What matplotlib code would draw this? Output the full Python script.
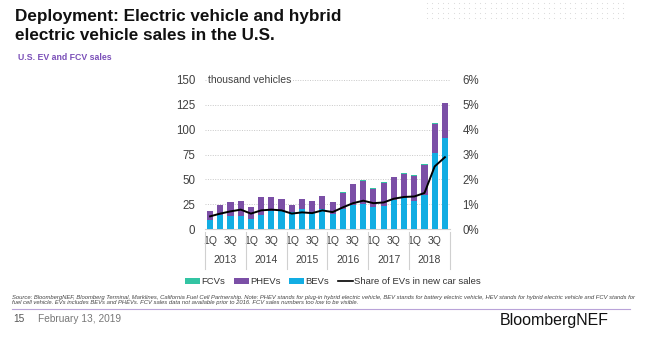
import numpy as np
import matplotlib
matplotlib.use("Agg")
import matplotlib.pyplot as plt
from matplotlib.patches import Patch
from matplotlib.lines import Line2D
import matplotlib.transforms as mtransforms

# ── Data (thousand vehicles, quarterly 2013 Q1 – 2018 Q4) ─────────────────────
years = ["2013", "2014", "2015", "2016", "2017", "2018"]
quarters = ["1Q", "", "3Q", ""] * 6
bevs = [9.3, 13.7, 12.7, 12.7, 10.3, 14.3, 17.7, 17.7, 16.7, 20.0, 16.7, 20.0,
        15.3, 20.0, 24.3, 24.7, 21.7, 22.7, 29.3, 31.0, 28.3, 34.3, 77.0, 91.7]
phevs = [8.4, 10.0, 14.3, 15.6, 11.7, 18.4, 15.0, 12.3, 7.0, 10.7, 11.6, 13.3,
         11.8, 16.7, 20.7, 24.0, 19.0, 23.7, 22.8, 24.4, 25.1, 30.4, 29.1, 34.7]
fcvs = [0, 0, 0, 0, 0, 0, 0, 0, 0, 0, 0, 0,
        0.2, 0.3, 0.3, 0.3, 0.4, 0.6, 0.6, 0.7, 0.5, 0.6, 0.6, 0.6]
ev_share = [0.51, 0.62, 0.71, 0.78, 0.62, 0.75, 0.78, 0.75, 0.62, 0.67, 0.64, 0.75,
            0.68, 0.87, 1.04, 1.14, 1.04, 1.07, 1.22, 1.29, 1.31, 1.45, 2.52, 2.89]

BEV_C = "#12ade3"
PHEV_C = "#7b4fa6"
FCV_C = "#33c4a3"
GREY = "#404040"

x = np.arange(len(bevs))
bevs = np.array(bevs)
phevs = np.array(phevs)
fcvs = np.array(fcvs)

plt.rcParams["font.family"] = ["Liberation Sans", "DejaVu Sans"]
fig = plt.figure(figsize=(6.58, 3.37), dpi=100)
fig.patch.set_facecolor("white")

# ── Header ────────────────────────────────────────────────────────────────────
fig.text(15 / 658, 1 - 9 / 337, "Deployment: Electric vehicle and hybrid\nelectric vehicle sales in the U.S.",
         fontsize=12.3, fontweight="bold", color="#111111", va="top", ha="left", linespacing=1.3)
fig.text(18 / 658, 1 - 57 / 337, "U.S. EV and FCV sales", fontsize=6.3, fontweight="bold",
         color="#7a4fb8", va="center", ha="left")

# decorative dot grid (top right)
gx, gy = np.meshgrid(np.arange(427, 625, 5.3), [3, 8, 13, 18])
dots = fig.add_axes([0, 0, 1, 1], zorder=-1)
dots.set_xlim(0, 658)
dots.set_ylim(337, 0)
dots.axis("off")
dots.scatter(gx.ravel(), gy.ravel(), s=0.6, color="#d8d8d8", linewidths=0)

# ── Main chart ────────────────────────────────────────────────────────────────
ax = fig.add_axes([205 / 658, 108 / 337, 245 / 658, 149 / 337])
ax.bar(x, bevs, width=0.6, color=BEV_C, zorder=3)
ax.bar(x, phevs, width=0.6, bottom=bevs, color=PHEV_C, zorder=3)
ax.bar(x, fcvs, width=0.6, bottom=bevs + phevs, color=FCV_C, zorder=3)

ax.set_xlim(-0.5, len(x) - 0.5)
ax.set_ylim(0, 150)
ax.set_yticks(range(0, 151, 25))
ax.grid(axis="y", color="#c8c8c8", linestyle=(0, (1, 1.5)), linewidth=0.7, zorder=0)
for s in ["top", "right", "left"]:
    ax.spines[s].set_visible(False)
ax.spines["bottom"].set_color("#d0d0d0")
ax.spines["bottom"].set_linewidth(0.8)
ax.tick_params(axis="y", length=0, pad=7, labelsize=8.3, labelcolor=GREY)
ax.set_xticks(x)
ax.set_xticklabels(quarters)
ax.tick_params(axis="x", length=0, pad=5, labelsize=7.5, labelcolor=GREY)

ax.text(-0.2, 150, "thousand vehicles", fontsize=7.5, color=GREY, va="center", ha="left",
        bbox=dict(facecolor="white", edgecolor="none", pad=1), zorder=4)

trans = mtransforms.blended_transform_factory(ax.transData, ax.transAxes)
for i in range(len(years) + 1):
    ax.plot([i * 4 - 0.5] * 2, [-0.02, -0.27], transform=trans, color="#d0d0d0",
            linewidth=0.8, clip_on=False)
for i, yr in enumerate(years):
    ax.text(i * 4 + 1.5, -0.205, yr, transform=trans, fontsize=7.5, color=GREY,
            ha="center", va="center")

ax2 = ax.twinx()
ax2.plot(x, ev_share, color="black", linewidth=1.4, zorder=5)
ax2.set_ylim(0, 6)
ax2.set_yticks(range(0, 7))
ax2.set_yticklabels([f"{v}%" for v in range(0, 7)])
ax2.tick_params(axis="y", length=0, pad=9, labelsize=8.3, labelcolor=GREY)
for s in ax2.spines.values():
    s.set_visible(False)

# ── Legend ────────────────────────────────────────────────────────────────────
handles = [Patch(facecolor=FCV_C, label="FCVs"),
           Patch(facecolor=PHEV_C, label="PHEVs"),
           Patch(facecolor=BEV_C, label="BEVs"),
           Line2D([], [], color="black", linewidth=1.2, label="Share of EVs in new car sales")]
fig.legend(handles=handles, loc="center", bbox_to_anchor=(333 / 658, 1 - 282 / 337), ncol=4,
           frameon=False, fontsize=6.8, handlelength=1.6, handleheight=0.5, handletextpad=0.15,
           columnspacing=0.9, labelcolor="#333333")

# ── Footer ────────────────────────────────────────────────────────────────────
fig.text(12 / 658, 1 - 300 / 337,
         "Source: BloombergNEF, Bloomberg Terminal, Marklines, California Fuel Cell Partnership. Note: PHEV stands for "
         "plug-in hybrid electric vehicle, BEV stands for battery electric vehicle, HEV stands for hybrid electric vehicle and FCV stands for\n"
         "fuel cell vehicle. EVs includes BEVs and PHEVs. FCV sales data not available prior to 2016. FCV sales numbers too low to be visible.",
         fontsize=4.2, style="italic", color="#444444", va="center", ha="left", linespacing=1.15)
fig.add_artist(Line2D([12 / 658, 630 / 658], [1 - 308.5 / 337] * 2, color="#b9a3d9", linewidth=0.8))
fig.text(13 / 658, 1 - 319 / 337, "15", fontsize=7.3, color="#555555", va="center", ha="left")
fig.text(38 / 658, 1 - 319 / 337, "February 13, 2019", fontsize=7.3, color="#777777", va="center", ha="left")
fig.text(609 / 658, 1 - 320 / 337, "BloombergNEF", fontsize=11.5, color="#111111", va="center", ha="right")

fig.savefig("out.png", dpi=100, facecolor="white")
